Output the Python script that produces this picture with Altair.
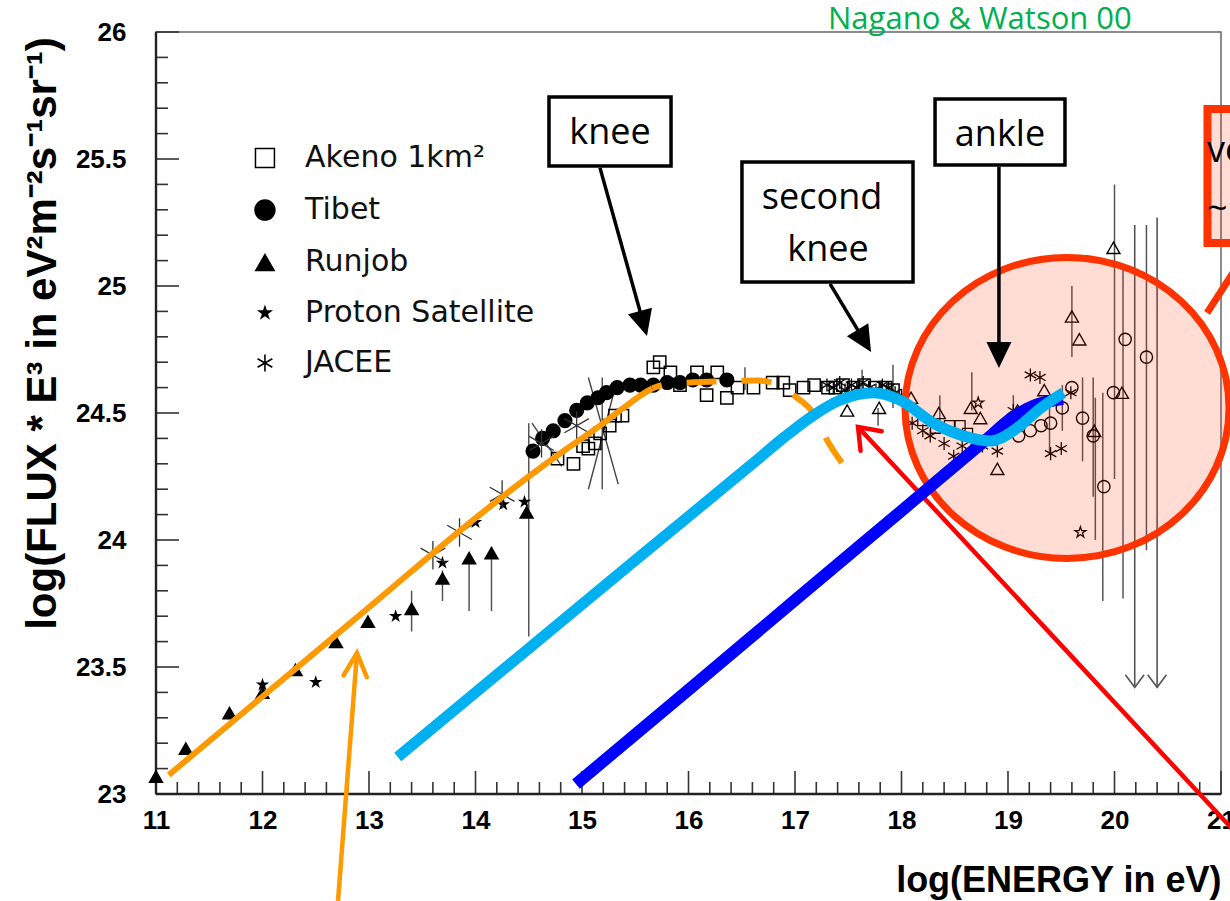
import math
import altair as alt
import pandas as pd

# ---------------- values ----------------
# Runjob (filled triangles)
runjob_x = [11.0, 11.28, 11.69, 12.0, 12.31, 12.69, 12.99, 13.4, 13.69, 13.94, 14.15, 14.48]
runjob_y = [23.07, 23.18, 23.32, 23.40, 23.49, 23.60, 23.68, 23.73, 23.85, 23.93, 23.95, 24.11]
# Proton Satellite (filled stars)
proton_x = [12.0, 12.5, 13.25, 13.69, 14.0, 14.26, 14.46]
proton_y = [23.43, 23.44, 23.70, 23.91, 24.07, 24.14, 24.15]
# JACEE (asterisks)
jacee_x = [13.6, 13.85, 14.25, 14.62, 14.95]
jacee_y = [23.94, 24.03, 24.18, 24.38, 24.45]
# JACEE diagonal error strokes
jdiag_x1 = [15.06, 15.33, 14.53]
jdiag_y1 = [24.64, 24.63, 24.46]
jdiag_x2 = [15.34, 15.06, 14.81]
jdiag_y2 = [24.22, 24.20, 24.29]
# Tibet (filled circles)
tibet_x = [14.54, 14.63, 14.73, 14.84, 14.95, 15.05, 15.15, 15.23, 15.33, 15.45, 15.55,
           15.67, 15.80, 15.92, 16.04, 16.17, 16.36]
tibet_y = [24.35, 24.40, 24.43, 24.47, 24.51, 24.54, 24.56, 24.58, 24.60, 24.61, 24.61,
           24.61, 24.62, 24.62, 24.63, 24.63, 24.63]
# Akeno 1 km2 (open squares)
akeno_x = [14.77, 14.92, 15.01, 15.06, 15.12, 15.17, 15.26, 15.31, 15.38, 15.67, 15.73,
           15.83, 15.92, 16.08, 16.17, 16.27, 16.36, 16.46, 16.61, 16.79, 16.89, 16.95,
           17.08, 17.18, 17.31, 17.38, 17.45, 17.55, 17.65, 17.75, 17.85, 17.92]
akeno_y = [24.32, 24.30, 24.37, 24.36, 24.38, 24.42, 24.45, 24.49, 24.49, 24.68, 24.70,
           24.66, 24.61, 24.66, 24.57, 24.66, 24.56, 24.60, 24.60, 24.62, 24.62, 24.59,
           24.60, 24.61, 24.60, 24.60, 24.61, 24.60, 24.61, 24.60, 24.60, 24.59]
# highest-energy experiments (not in the legend)
hi_tri_x = [17.49, 17.79, 18.09, 18.35, 18.65, 18.74, 18.90, 19.09, 19.34, 19.60, 19.67,
            19.81, 19.99, 20.07]
hi_tri_y = [24.51, 24.52, 24.56, 24.50, 24.52, 24.48, 24.28, 24.51, 24.59, 24.88, 24.79,
            24.43, 25.15, 24.58]
hi_ast_x = [17.30, 17.36, 17.42, 17.47, 17.53, 17.58, 17.64, 17.70, 17.76, 17.82, 17.88,
            17.94, 18.00, 18.10, 18.20, 18.27, 18.40, 18.49, 18.57, 18.65, 18.76, 18.90,
            19.05, 19.21, 19.30, 19.40, 19.50, 19.59]
hi_ast_y = [24.61, 24.60, 24.62, 24.59, 24.61, 24.60, 24.62, 24.60, 24.59, 24.61, 24.60,
            24.58, 24.57, 24.46, 24.43, 24.41, 24.38, 24.33, 24.37, 24.35, 24.37, 24.35,
            24.51, 24.65, 24.64, 24.34, 24.36, 24.58]
hi_circ_x = [19.10, 19.21, 19.31, 19.40, 19.51, 19.60, 19.70, 19.80, 19.90, 19.99, 20.10, 20.30]
hi_circ_y = [24.41, 24.43, 24.45, 24.46, 24.52, 24.60, 24.48, 24.41, 24.21, 24.58, 24.79, 24.72]
hi_star_x = [18.72, 19.68]
hi_star_y = [24.54, 24.03]
hi_sq_x = [18.20, 18.32, 18.45, 18.55, 18.62]
hi_sq_y = [24.47, 24.44, 24.45, 24.45, 24.42]
# error bars
err_x = [13.40, 13.69, 13.94, 14.15, 14.50, 15.19, 16.53, 17.63, 17.78, 17.92, 18.36, 18.66,
         19.05, 19.39, 19.51, 19.60, 19.70, 19.80, 19.82, 19.89, 20.00, 20.08, 20.30]
err_lo = [23.64, 23.76, 23.72, 23.72, 23.62, 24.20, 24.59, 24.59, 24.45, 24.52, 24.47, 24.51,
          24.45, 24.34, 24.43, 24.72, 24.31, 24.17, 24.00, 23.76, 24.24, 23.77, 23.96]
err_hi = [23.80, 23.88, 23.95, 23.97, 24.46, 24.64, 24.68, 24.67, 24.52, 24.69, 24.57, 24.66,
          24.57, 24.52, 24.61, 25.00, 24.64, 24.64, 24.56, 24.58, 25.40, 25.07, 25.24]
# upper limits (arrows)
ul_x = [20.19, 20.40]
ul_hi = [25.24, 25.27]
ul_lo = [23.42, 23.42]

# model curves
orange_x = [11.12, 12.0, 13.0, 14.0, 14.5, 14.86, 15.17, 15.42, 15.61, 15.66]
orange_y = [23.075, 23.384, 23.735, 24.086, 24.25, 24.36, 24.45, 24.53, 24.585, 24.597]
orange_dash_x = [15.66, 15.80, 16.13, 16.65, 16.82, 16.98, 17.17, 17.30, 17.47]
orange_dash_y = [24.597, 24.614, 24.622, 24.628, 24.615, 24.571, 24.50, 24.394, 24.287]
lblue_x = [13.27, 14.5, 15.5, 16.6, 16.90, 17.17, 17.42, 17.74, 17.99, 18.30, 18.58, 18.84,
           19.05, 19.31, 19.52]
lblue_y = [23.146, 23.573, 23.92, 24.30, 24.405, 24.49, 24.55, 24.58, 24.55, 24.46, 24.41,
           24.39, 24.43, 24.52, 24.58]
dblue_x = [14.944, 16.0, 17.0, 18.0, 18.8, 19.05, 19.25, 19.516]
dblue_y = [23.039, 23.41, 23.763, 24.115, 24.397, 24.485, 24.53, 24.556]

# axis ticks
xt_major = list(range(11, 22))
xt_minor = [round(11 + 0.2 * i, 1) for i in range(51) if i % 5]
yt_major = [23, 23.5, 24, 24.5, 25, 25.5, 26]
yt_minor = [round(23 + 0.1 * i, 1) for i in range(31) if i % 5]

# legend
legend_names = ["Akeno 1km²", "Tibet", "Runjob", "Proton Satellite", "JACEE"]

# annotation texts
box_labels = ["knee", "second", "knee", "ankle"]

# ---------------- layout ----------------
W, H = 1065, 762
KX, KY = W / 10.0, H / 3.0
XS = alt.Scale(domain=[11, 21], nice=False, zero=False)
YS = alt.Scale(domain=[23, 26], nice=False, zero=False)
NUMFONT = "Liberation Sans"
XA = alt.Axis(values=xt_major, ticks=False, tickSize=0, domain=False, grid=False,
              labelFont=NUMFONT, labelFontWeight="bold", labelFontSize=26, labelColor="black",
              labelPadding=13, labelFlush=False, labelOverlap=False, format="~g",
              title="log(ENERGY in eV)", titleFont=NUMFONT, titleFontWeight="bold",
              titleFontSize=36, titleColor="black", titleX=W, titleY=86, titleAlign="right",
              titleBaseline="middle", titleAnchor="end")
YA = alt.Axis(values=yt_major, ticks=False, tickSize=0, domain=False, grid=False,
              labelFont=NUMFONT, labelFontWeight="bold", labelFontSize=26, labelColor="black",
              labelPadding=30, labelFlush=False, labelOverlap=False, format="~g",
              title="log(FLUX * E³ in eV²m⁻²s⁻¹sr⁻¹)", titleFont=NUMFONT,
              titleFontWeight="bold", titleFontSize=42, titleColor="black", titleAngle=270,
              titleX=-114, titleY=301, titleAlign="center", titleBaseline="middle")


def X(f):
    return alt.X(f, type="quantitative", scale=XS, axis=XA)


def Y(f):
    return alt.Y(f, type="quantitative", scale=YS, axis=YA)


def df(**cols):
    return pd.DataFrame(cols)


def pts(xv, yv, shape, size, filled, color="black", sw=1.4):
    return alt.Chart(df(x=xv, y=yv)).mark_point(
        shape=shape, size=size, filled=filled, color=color, strokeWidth=sw, opacity=1
    ).encode(x=X("x"), y=Y("y"))


def curve(xv, yv, color, width, **kw):
    return alt.Chart(df(x=xv, y=yv)).mark_line(
        color=color, strokeWidth=width, interpolate="monotone", strokeCap="butt", **kw
    ).encode(x=X("x"), y=Y("y"))


def seg(x1, y1, x2, y2, color, width, **kw):
    return alt.Chart(df(x=x1, y=y1, x2=x2, y2=y2)).mark_rule(
        color=color, strokeWidth=width, **kw
    ).encode(x=X("x"), y=Y("y"), x2="x2", y2="y2")


def head_angle(x0, y0, x1, y1):
    dx = (x1 - x0) * KX
    dy = -(y1 - y0) * KY
    return (math.degrees(math.atan2(-dx, dy)) + 360) % 360


HEAD = "M0,0L-0.48,-1L0.48,-1Z"
VHEAD = "M-0.6,-0.8L0,0L0.6,-0.8"
VHEAD_O = "M-0.45,-0.9L0,0L0.45,-0.9"
STAR = ("M0,-1L0.225,-0.309L0.951,-0.309L0.363,0.118L0.588,0.809L0,0.382"
        "L-0.588,0.809L-0.363,0.118L-0.951,-0.309L-0.225,-0.309Z")
AST = "M0,-1L0,1M-0.87,-0.5L0.87,0.5M-0.87,0.5L0.87,-0.5"
ELLIPSE = "M-1,0A1,0.929,0,1,0,1,0A1,0.929,0,1,0,-1,0Z"


def head(xt, yt, ang, shape, size, color, filled=True, sw=1.0):
    return alt.Chart(df(x=[xt], y=[yt])).mark_point(
        shape=shape, size=size, filled=filled, color=color, angle=ang, opacity=1,
        strokeWidth=sw, strokeCap="round"
    ).encode(x=X("x"), y=Y("y"))


def label(xv, yv, texts, size, font="Open Sans", color="black", align="center",
          baseline="middle", weight="normal"):
    return alt.Chart(df(x=xv, y=yv, t=texts)).mark_text(
        font=font, fontSize=size, color=color, align=align, baseline=baseline,
        fontWeight=weight
    ).encode(x=X("x"), y=Y("y"), text="t:N")


layers = []

# ticks (inward) and left/bottom frame lines
layers.append(alt.Chart(df(v=xt_major)).mark_rule(color="#333", strokeWidth=1.6).encode(
    x=X("v"), y=alt.value(H), y2=alt.value(H - 23)))
layers.append(alt.Chart(df(v=xt_minor)).mark_rule(color="#333", strokeWidth=1.6).encode(
    x=X("v"), y=alt.value(H), y2=alt.value(H - 12)))
layers.append(alt.Chart(df(v=yt_major)).mark_rule(color="#333", strokeWidth=1.6).encode(
    y=Y("v"), x=alt.value(0), x2=alt.value(23)))
layers.append(alt.Chart(df(v=yt_minor)).mark_rule(color="#333", strokeWidth=1.6).encode(
    y=Y("v"), x=alt.value(0), x2=alt.value(12)))
layers.append(alt.Chart(df(v=[0])).mark_rule(color="#222", strokeWidth=2.4).encode(
    x=alt.value(0), y=alt.value(0), y2=alt.value(H)))
layers.append(alt.Chart(df(v=[0])).mark_rule(color="#222", strokeWidth=2.4).encode(
    y=alt.value(H), x=alt.value(0), x2=alt.value(W)))

# error bars
layers.append(alt.Chart(df(x=err_x, lo=err_lo, hi=err_hi)).mark_rule(
    color="#555", strokeWidth=1.5).encode(x=X("x"), y=Y("lo"), y2="hi"))
layers.append(alt.Chart(df(x=ul_x, lo=ul_lo, hi=ul_hi)).mark_rule(
    color="#555", strokeWidth=1.6).encode(x=X("x"), y=Y("lo"), y2="hi"))
for ux, ul in zip(ul_x, ul_lo):
    layers.append(head(ux, ul, 0, VHEAD, 900, "#555", filled=False, sw=1.6))
layers.append(seg(jdiag_x1, jdiag_y1, jdiag_x2, jdiag_y2, "#444", 1.4))

# data markers
layers.append(pts(akeno_x, akeno_y, "square", 150, False, sw=1.5))
layers.append(pts(hi_sq_x, hi_sq_y, "square", 100, False, sw=1.3))
layers.append(pts(tibet_x, tibet_y, "circle", 230, True))
layers.append(pts(runjob_x, runjob_y, "triangle-up", 240, True))
layers.append(pts(proton_x, proton_y, STAR, 200, True))
layers.append(pts(jacee_x, jacee_y, AST, 800, False, color="#333", sw=1.3))
layers.append(pts(hi_ast_x, hi_ast_y, AST, 170, False, sw=1.3))
layers.append(pts(hi_tri_x, hi_tri_y, "triangle-up", 170, False, sw=1.4))
layers.append(pts(hi_circ_x, hi_circ_y, "circle", 150, False, sw=1.4))
layers.append(pts(hi_star_x, hi_star_y, STAR, 130, False, sw=1.3))

# red highlight ellipse
layers.append(alt.Chart(df(x=[19.554], y=[24.52])).mark_point(
    shape=ELLIPSE, size=104976, filled=True, fill="#FF3300", fillOpacity=0.17,
    stroke="#FF3300", strokeWidth=7, strokeOpacity=1, opacity=1
).encode(x=X("x"), y=Y("y")))

# orange model
layers.append(curve(orange_x, orange_y, "#FF9900", 6))
layers.append(curve(orange_dash_x, orange_dash_y, "#FF9900", 6, strokeDash=[30, 25],
                    strokeDashOffset=20))

# red arrow pointing to second knee
red_tail = (21.2, 22.82)
red_tip = (17.592, 24.445)
layers.append(seg([red_tail[0]], [red_tail[1]], [red_tip[0]], [red_tip[1]], "#FF0000", 4.5))
layers.append(head(red_tip[0], red_tip[1], head_angle(*red_tail, *red_tip), VHEAD, 2304,
                   "#FF0000", filled=False, sw=4.5))

# blue models
layers.append(curve(dblue_x, dblue_y, "#0000FF", 12))
layers.append(curve(lblue_x, lblue_y, "#00B0F0", 11))

# red callout box (cut at the right edge)
layers.append(seg([20.869], [24.894], [21.178], [25.094], "#FF3300", 7))
layers.append(alt.Chart(df(x=[20.873], x2=[21.5], y=[25.697], y2=[25.169])).mark_rect(
    fill="#FF3300", fillOpacity=0.17, stroke="#FF3300", strokeWidth=8
).encode(x=X("x"), x2="x2", y=Y("y"), y2="y2"))
layers.append(label([20.869], [25.488], ["very high energy"], 36, align="left",
                    baseline="alphabetic"))
layers.append(label([20.869], [25.30], ["~10²⁰ eV"], 36, align="left"))

# black annotation boxes with arrows
layers.append(alt.Chart(df(x=[14.690, 16.502, 18.315], x2=[15.836, 18.108, 19.535],
                           y=[25.744, 25.488, 25.736], y2=[25.472, 25.016, 25.476])).mark_rect(
    fill="white", stroke="black", strokeWidth=3.5
).encode(x=X("x"), x2="x2", y=Y("y"), y2="y2"))
layers.append(label([15.263, 17.254, 17.31, 18.925], [25.602, 25.346, 25.142, 25.594],
                    box_labels, 36))
arrows = [((15.169, 25.465), (15.61, 24.803)),
          ((17.329, 25.008), (17.714, 24.740)),
          ((18.915, 25.469), (18.915, 24.677))]
for (tx, ty), (hx, hy) in arrows:
    ex = hx - (hx - tx) * 0.06
    ey = hy - (hy - ty) * 0.06
    layers.append(seg([tx], [ty], [ex], [ey], "black", 3.5))
    layers.append(head(hx, hy, head_angle(tx, ty, hx, hy), HEAD, 2704, "black"))

# legend
leg_y = [25.504, 25.299, 25.094, 24.894, 24.697]
layers.append(pts([12.023], [leg_y[0]], "square", 360, False, sw=1.5))
layers.append(pts([12.023], [leg_y[1]], "circle", 460, True))
layers.append(pts([12.023], [leg_y[2]], "triangle-up", 440, True))
layers.append(pts([12.023], [leg_y[3]], STAR, 290, True))
layers.append(pts([12.023], [leg_y[4]], AST, 290, False, sw=1.6))
layers.append(label([12.40] * 5, leg_y, legend_names, 30, font="DejaVu Sans",
                    align="left", color="#111"))

# orange arrow from below
o_tail = (12.709, 22.579)
o_tip = (12.887, 23.555)
layers.append(seg([o_tail[0]], [o_tail[1]], [o_tip[0]], [o_tip[1]], "#FF9900", 4.5))
layers.append(head(o_tip[0], o_tip[1], head_angle(*o_tail, *o_tip), VHEAD_O, 2704,
                   "#FF9900", filled=False, sw=4.5))

# citation
layers.append(label([17.31], [26.012], ["Nagano & Watson 00"], 31, color="#00B050",
                    align="left", baseline="alphabetic"))

chart = alt.layer(*layers).properties(
    width=W, height=H,
    autosize=alt.AutoSizeParams(type="none"),
    padding={"left": 156, "top": 32, "right": 9, "bottom": 107},
    background="white",
).configure_view(stroke="#666", strokeWidth=1.5)

chart.save("out.html", embed_options={"renderer": "svg", "actions": False})
